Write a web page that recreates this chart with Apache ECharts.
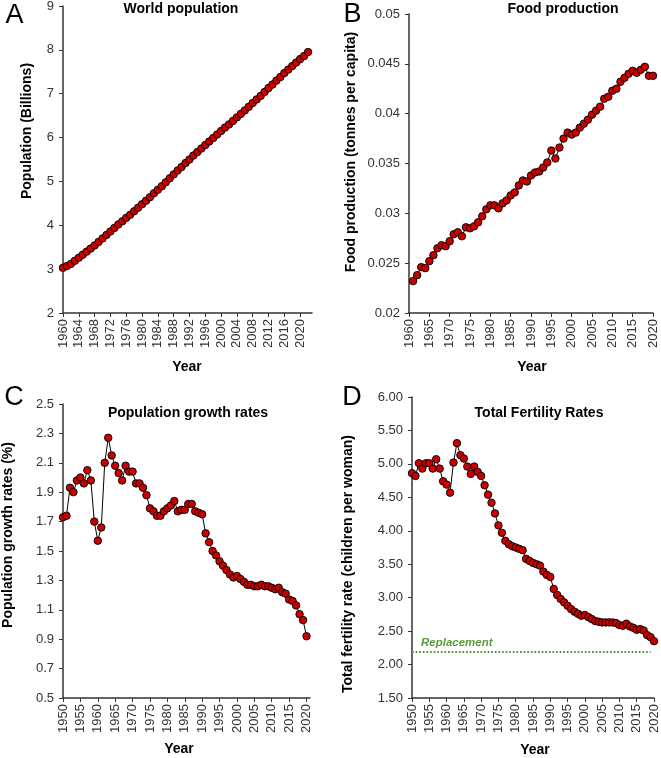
<!DOCTYPE html>
<html>
<head>
<meta charset="utf-8">
<script src="https://cdn.jsdelivr.net/npm/echarts@6/dist/echarts.min.js"></script>
<style>
html, body { margin: 0; padding: 0; background: #fff; }
#main { width: 661px; height: 758px; }
</style>
</head>
<body>
<div id="main"></div>
<script>
// A: world population, billions, 1960-2022
var popStart = 1960;
var popValues = [
	3.03, 3.07, 3.12, 3.19, 3.26, 3.33, 3.40, 3.47, 3.54, 3.62,
	3.70, 3.78, 3.86, 3.94, 4.02, 4.09, 4.17, 4.24, 4.32, 4.40,
	4.48, 4.56, 4.64, 4.73, 4.81, 4.89, 4.98, 5.07, 5.16, 5.25,
	5.33, 5.42, 5.50, 5.59, 5.67, 5.75, 5.83, 5.91, 5.99, 6.07,
	6.15, 6.23, 6.30, 6.38, 6.46, 6.54, 6.62, 6.70, 6.79, 6.87,
	6.95, 7.04, 7.13, 7.21, 7.30, 7.38, 7.47, 7.55, 7.63, 7.71,
	7.79, 7.86, 7.95
];

// B: food production, tonnes per capita, 1961-2020
var foodStart = 1961;
var foodValues = [
	0.0232, 0.0238, 0.0246, 0.0245, 0.0252, 0.0258, 0.0265, 0.0268, 0.0267, 0.0272,
	0.0279, 0.0281, 0.0277, 0.0286, 0.0285, 0.0287, 0.0291, 0.0297, 0.0304, 0.0308,
	0.0308, 0.0305, 0.0310, 0.0313, 0.0318, 0.0321, 0.0328, 0.0333, 0.0332, 0.0338,
	0.0341, 0.0342, 0.0346, 0.0351, 0.0363, 0.0355, 0.0366, 0.0375, 0.0381, 0.0379,
	0.0381, 0.0386, 0.0390, 0.0394, 0.0399, 0.0403, 0.0407, 0.0415, 0.0417, 0.0423,
	0.0425, 0.0432, 0.0436, 0.0440, 0.0443, 0.0441, 0.0444, 0.0447, 0.0438, 0.0438
];

// C: population growth rate %, 1950-2020
var growthStart = 1950;
var growthValues = [
	1.73, 1.74, 1.93, 1.90, 1.98, 2.00, 1.96, 2.05, 1.98, 1.70,
	1.57, 1.66, 2.10, 2.27, 2.15, 2.08, 2.03, 1.98, 2.08, 2.04,
	2.04, 1.96, 1.96, 1.93, 1.88, 1.79, 1.77, 1.74, 1.74, 1.77,
	1.79, 1.81, 1.84, 1.77, 1.78, 1.78, 1.82, 1.82, 1.77, 1.76,
	1.75, 1.62, 1.56, 1.50, 1.47, 1.43, 1.40, 1.37, 1.34, 1.32,
	1.33, 1.31, 1.29, 1.27, 1.27, 1.26, 1.26, 1.27, 1.26, 1.26,
	1.25, 1.24, 1.25, 1.22, 1.21, 1.17, 1.16, 1.13, 1.07, 1.03,
	0.92
];

// D: total fertility rate, 1950-2020
var tfrStart = 1950;
var tfrValues = [
	4.86, 4.82, 5.01, 4.93, 5.01, 5.01, 4.93, 5.07, 4.93, 4.74,
	4.69, 4.57, 5.02, 5.31, 5.13, 5.08, 4.96, 4.85, 4.96, 4.88,
	4.82, 4.68, 4.54, 4.42, 4.26, 4.08, 3.97, 3.85, 3.80, 3.77,
	3.75, 3.73, 3.71, 3.58, 3.55, 3.52, 3.50, 3.48, 3.39, 3.34,
	3.31, 3.13, 3.04, 2.98, 2.93, 2.88, 2.83, 2.79, 2.76, 2.73,
	2.74, 2.71, 2.68, 2.65, 2.64, 2.63, 2.63, 2.63, 2.63, 2.62,
	2.59, 2.58, 2.61, 2.57, 2.55, 2.52, 2.53, 2.51, 2.44, 2.41,
	2.35
];
var replacementLevel = 2.19;
var replacementEnd = [1950, 2019];

var FONT = '"Liberation Sans", Arial, sans-serif';
var RED = '#c80000';
var GREEN = '#5a9a3c';

function pairs(start, values) {
	var out = [];
	for (var i = 0; i < values.length; i++) {
		out.push([start + i, values[i]]);
	}
	return out;
}

function makeX(idx, min, max, interval, hideMax) {
	return {
		type: 'value', gridIndex: idx, min: min, max: max, interval: interval,
		splitLine: { show: false },
		axisLine: { show: true, onZero: false, lineStyle: { color: '#333', width: 1.5 } },
		axisTick: { show: true, length: 4, lineStyle: { color: '#333', width: 1 } },
		axisLabel: {
			rotate: 90, margin: 6, fontSize: 13, color: '#333', fontFamily: FONT,
			showMaxLabel: !hideMax, showMinLabel: true,
			formatter: function (v) { return String(Math.round(v)); }
		}
	};
}

function makeY(idx, min, max, interval, digits) {
	return {
		type: 'value', gridIndex: idx, min: min, max: max, interval: interval,
		splitLine: { show: false },
		axisLine: { show: true, onZero: false, lineStyle: { color: '#333', width: 1.5 } },
		axisTick: { show: true, length: 4, lineStyle: { color: '#333', width: 1 } },
		axisLabel: {
			margin: 9, fontSize: 13, color: '#333', fontFamily: FONT,
			formatter: function (v) {
				return digits == null ? String(+v.toFixed(4)) : v.toFixed(digits);
			}
		}
	};
}

function makeSeries(idx, data) {
	return {
		type: 'line', xAxisIndex: idx, yAxisIndex: idx, data: data,
		symbol: 'circle', symbolSize: 7.5, showAllSymbol: true,
		itemStyle: { color: RED, borderColor: '#000', borderWidth: 0.9 },
		lineStyle: { color: '#000', width: 1 },
		emphasis: { disabled: true },
		silent: true, animation: false
	};
}

function txt(text, x, y, size, bold, rot) {
	return {
		type: 'text', x: x, y: y, rotation: rot || 0, silent: true,
		style: {
			text: text, fill: '#000', align: 'center', verticalAlign: 'middle',
			font: (bold ? 'bold ' : '') + size + 'px ' + FONT
		}
	};
}

var chart = echarts.init(document.getElementById('main'), null, { renderer: 'canvas' });

var dSeries = makeSeries(3, pairs(tfrStart, tfrValues));
dSeries.markLine = {
	silent: true, symbol: ['none', 'none'],
	lineStyle: { color: GREEN, type: 'dotted', width: 1.8 },
	label: {
		show: true, position: 'insideStartTop', formatter: 'Replacement',
		color: GREEN, fontStyle: 'italic', fontWeight: 'bold', fontSize: 11.5, fontFamily: FONT,
		distance: [9, 3]
	},
	data: [[
		{ coord: [replacementEnd[0], replacementLevel] },
		{ coord: [replacementEnd[1], replacementLevel] }
	]]
};

var option = {
	animation: false,
	backgroundColor: '#fff',
	grid: [
		{ left: 63, top: 6, width: 249, height: 307, outerBoundsMode: 'none' },
		{ left: 409, top: 14, width: 244, height: 299, outerBoundsMode: 'none' },
		{ left: 63, top: 404, width: 247, height: 294, outerBoundsMode: 'none' },
		{ left: 412, top: 397, width: 242, height: 301, outerBoundsMode: 'none' }
	],
	xAxis: [
		makeX(0, 1960, 2023, 4, true),
		makeX(1, 1960, 2020, 5, false),
		makeX(2, 1950, 2021, 5, true),
		makeX(3, 1950, 2020, 5, false)
	],
	yAxis: [
		makeY(0, 2, 9, 1, 0),
		makeY(1, 0.02, 0.05, 0.005, null),
		makeY(2, 0.5, 2.5, 0.2, 1),
		makeY(3, 1.5, 6, 0.5, 2)
	],
	series: [
		makeSeries(0, pairs(popStart, popValues)),
		makeSeries(1, pairs(foodStart, foodValues)),
		makeSeries(2, pairs(growthStart, growthValues)),
		dSeries
	],
	graphic: [
		txt('A', 14.5, 16, 27, false),
		txt('B', 352.5, 15, 27, false),
		txt('C', 14, 398, 27, false),
		txt('D', 352, 398, 27, false),
		txt('World population', 181, 9, 14, true),
		txt('Food production', 563, 9, 14, true),
		txt('Population growth rates', 188, 413, 14, true),
		txt('Total Fertility Rates', 539, 413, 14, true),
		txt('Year', 187, 367, 14, true),
		txt('Year', 532, 367, 14, true),
		txt('Year', 179, 749, 14, true),
		txt('Year', 535, 750, 14, true),
		txt('Population (Billions)', 27, 131, 14, true, Math.PI / 2),
		txt('Food production (tonnes per capita)', 351, 152, 14, true, Math.PI / 2),
		txt('Population growth rates (%)', 8, 535, 14, true, Math.PI / 2),
		txt('Total fertility rate (children per woman)', 348, 564, 14, true, Math.PI / 2)
	]
};

chart.setOption(option);
</script>
</body>
</html>
